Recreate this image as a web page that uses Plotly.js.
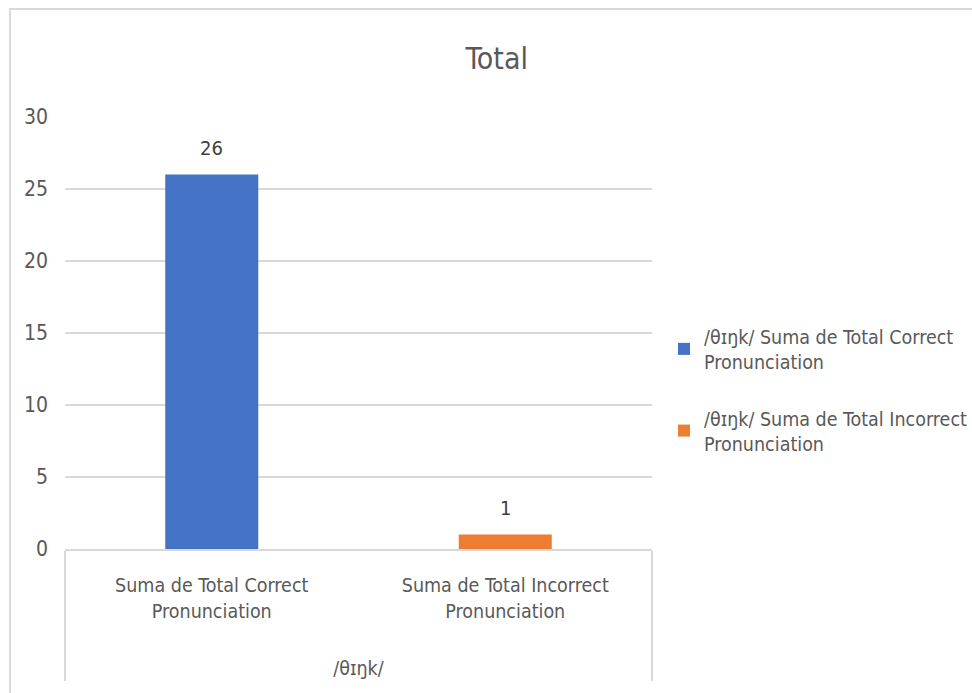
<!DOCTYPE html>
<html>
<head>
<meta charset="utf-8">
<script src="https://cdn.plot.ly/plotly-3.0.1.min.js"></script>
<style>
  html, body { margin: 0; padding: 0; background: #fff; }
  #wrap { position: relative; width: 972px; height: 693px; overflow: hidden; }
  #chart { position: absolute; left: 0; top: 0; width: 972px; height: 693px; }
  #frame { position: absolute; left: 9px; top: 8px; width: 980px; height: 700px;
           border-left: 2px solid #d9d9d9; border-top: 2px solid #d9d9d9; pointer-events: none; }
</style>
</head>
<body>
<div id="wrap">
  <div id="chart"></div>
  <div id="frame"></div>
</div>
<script>
const chartTitle = "Total";
const groupLabel = "\u00a0<br>\u00a0<br>/θɪŋk/";
const categories = ["Suma de Total Correct<br>Pronunciation", "Suma de Total Incorrect<br>Pronunciation"];
const seriesNames = ["/θɪŋk/ Suma de Total Correct<br>Pronunciation", "/θɪŋk/ Suma de Total Incorrect<br>Pronunciation"];
const values = [26, 1];
const colors = ["#4472C4", "#ED7D31"];
const yTicks = [0, 5, 10, 15, 20, 25, 30];

const FONT = "'Liberation Sans Narrow', 'Arial Narrow', 'DejaVu Sans Condensed', sans-serif";
const TXT = "#595959";

const traces = categories.map((c, i) => ({
  type: "bar",
  name: seriesNames[i],
  legendgroup: "g" + i,
  x: [[groupLabel], [c]],
  y: [values[i]],
  marker: { color: colors[i] },
  width: 0.317,
  hoverinfo: "skip"
}));

const annotations = categories.map((c, i) => ({
  xref: "x", yref: "y",
  x: i, y: values[i],
  text: String(values[i]),
  showarrow: false,
  yanchor: "bottom",
  yshift: 13,
  font: { family: FONT, size: 20, color: "#404040" }
}));

const layout = {
  width: 972, height: 693,
  margin: { l: 65, r: 320, t: 117, b: 144, autoexpand: false },
  paper_bgcolor: "#ffffff",
  plot_bgcolor: "#ffffff",
  barmode: "overlay",
  showlegend: true,
  title: {
    text: chartTitle,
    x: 0.511, xanchor: "center", xref: "container",
    y: 1 - 58 / 693, yanchor: "middle", yref: "container",
    font: { family: FONT, size: 30, color: TXT }
  },
  xaxis: {
    type: "multicategory",
    showline: true, linecolor: "#d9d9d9", linewidth: 2,
    showgrid: false, zeroline: false, ticks: "",
    showdividers: true, dividercolor: "#d9d9d9", dividerwidth: 2,
    ticklabelstandoff: 18,
    tickfont: { family: FONT, size: 19.5, color: TXT },
    range: [-0.5, 1.5]
  },
  yaxis: {
    range: [0, 30],
    tickvals: yTicks,
    showgrid: true, gridcolor: "#d9d9d9", gridwidth: 2,
    zeroline: false, showline: false, ticks: "",
    ticklabelstandoff: 16,
    tickfont: { family: FONT, size: 21, color: TXT }
  },
  legend: {
    x: (664 - 65) / 587, xanchor: "left",
    y: 0.368, yanchor: "middle",
    font: { family: FONT, size: 19.5, color: TXT },
    tracegroupgap: 28,
    bgcolor: "rgba(0,0,0,0)"
  },
  annotations: annotations
};

Plotly.newPlot("chart", traces, layout, { displayModeBar: false, staticPlot: true });
</script>
</body>
</html>
